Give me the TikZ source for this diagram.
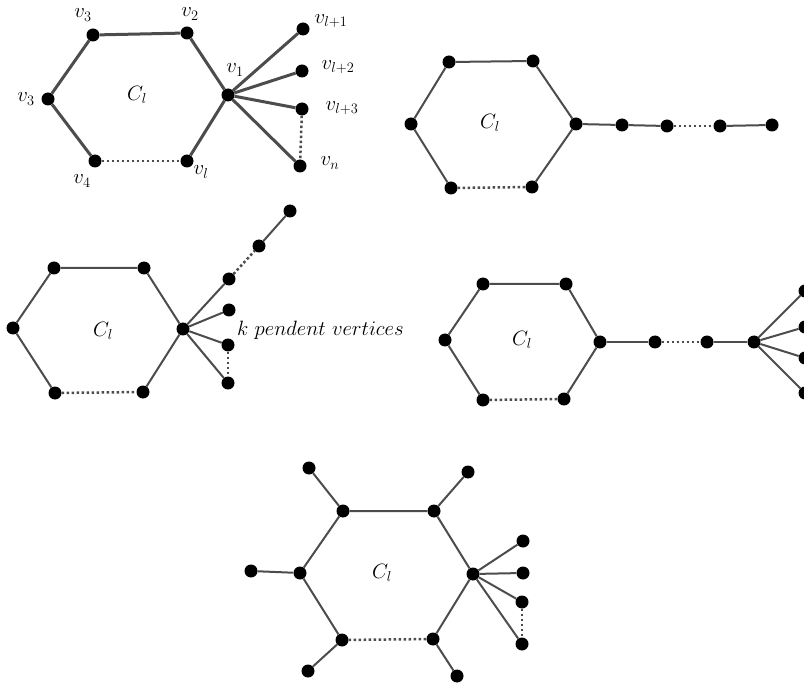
\documentclass[tikz,border=0pt]{standalone}
\begin{document}
\begin{tikzpicture}[x=1pt,y=-1pt,
  vtx/.style={circle,fill=black,inner sep=0pt,minimum size=13pt},
  edg/.style={draw=black!70,line width=2pt},
  thk/.style={draw=black!70,line width=3pt},
  dots/.style={draw=black!70,line width=2.5pt,dash pattern=on 2.5pt off 2.5pt},
  lab/.style={inner sep=0pt,font=\fontsize{20.74}{25}\selectfont}]
\clip (0,0) rectangle (804,687);
\fill[white] (0,0) rectangle (804,687);
% ---------- Figure 1 ----------
\node[vtx] (a3t) at (93,35) {};
\node[vtx] (a2) at (187,33) {};
\node[vtx] (a3l) at (48,99) {};
\node[vtx] (a1) at (228,95) {};
\node[vtx] (a4) at (95,161) {};
\node[vtx] (al) at (187,161) {};
\node[vtx] (p1) at (303,29) {};
\node[vtx] (p2) at (302,71) {};
\node[vtx] (p3) at (302,109) {};
\node[vtx] (pn) at (300,166) {};
\draw[thk] (a3t) -- (a2) -- (a1) -- (al);
\draw[thk] (a3t) -- (a3l) -- (a4);
\draw[dots] (a4) -- (al);
\draw[thk] (a1) -- (p1);
\draw[thk] (a1) -- (p2);
\draw[thk] (a1) -- (p3);
\draw[thk] (a1) -- (pn);
\draw[dots] (p3) -- (pn);
\node[lab] (t3t) at (83,15) {$v_3$};
\node[lab] (t2) at (190,14) {$v_2$};
\node[lab] (t3l) at (26,99) {$v_3$};
\node[lab] (t1) at (235,70) {$v_1$};
\node[lab] (t4) at (82,181) {$v_4$};
\node[lab] (tl) at (201,172) {$v_l$};
\node[lab] (tp1) at (331,21) {$v_{l+1}$};
\node[lab] (tp2) at (338,67) {$v_{l+2}$};
\node[lab] (tp3) at (342,108) {$v_{l+3}$};
\node[lab] (tpn) at (330,163) {$v_n$};
\node[lab] (c1) at (137,95) {$C_l$};
% ---------- Figure 2 ----------
\node[vtx] (b1) at (449,62) {};
\node[vtx] (b2) at (533,61) {};
\node[vtx] (b3) at (411,124) {};
\node[vtx] (b4) at (576,124) {};
\node[vtx] (b5) at (451,188) {};
\node[vtx] (b6) at (532,187) {};
\node[vtx] (bq1) at (622,125) {};
\node[vtx] (bq2) at (667,126) {};
\node[vtx] (bq3) at (720,126) {};
\node[vtx] (bq4) at (772,125) {};
\draw[edg] (b1) -- (b2) -- (b4) -- (b6);
\draw[edg] (b1) -- (b3) -- (b5);
\draw[dots] (b5) -- (b6);
\draw[edg] (b4) -- (bq1) -- (bq2);
\draw[dots] (bq2) -- (bq3);
\draw[edg] (bq3) -- (bq4);
\node[lab] (c2) at (490,123) {$C_l$};
% ---------- Figure 3 ----------
\node[vtx] (d1) at (54,268) {};
\node[vtx] (d2) at (144,268) {};
\node[vtx] (d3) at (13,328) {};
\node[vtx] (d4) at (183,329) {};
\node[vtx] (d5) at (55,393) {};
\node[vtx] (d6) at (143,392) {};
\node[vtx] (dq1) at (229,279) {};
\node[vtx] (dq2) at (259,246) {};
\node[vtx] (dq3) at (290,211) {};
\node[vtx] (dk1) at (229,310) {};
\node[vtx] (dk2) at (228,345) {};
\node[vtx] (dk3) at (228,383) {};
\draw[edg] (d1) -- (d2) -- (d4) -- (d6);
\draw[edg] (d1) -- (d3) -- (d5);
\draw[dots] (d5) -- (d6);
\draw[edg] (d4) -- (dq1);
\draw[dots] (dq1) -- (dq2);
\draw[edg] (dq2) -- (dq3);
\draw[edg] (d4) -- (dk1);
\draw[edg] (d4) -- (dk2);
\draw[edg] (d4) -- (dk3);
\draw[dots] (dk2) -- (dk3);
\node[lab] (c3) at (103,331) {$C_l$};
\node[lab,anchor=west] (kt) at (237,330) {$k\ pendent\ vertices$};
% ---------- Figure 4 ----------
\node[vtx] (e1) at (483,284) {};
\node[vtx] (e2) at (566,284) {};
\node[vtx] (e3) at (445,340) {};
\node[vtx] (e4) at (600,342) {};
\node[vtx] (e5) at (483,400) {};
\node[vtx] (e6) at (564,399) {};
\node[vtx] (eq1) at (655,342) {};
\node[vtx] (eq2) at (707,342) {};
\node[vtx] (es) at (754,342) {};
\node[vtx] (ek1) at (805,291) {};
\node[vtx] (ek2) at (805,327) {};
\node[vtx] (ek3) at (805,358) {};
\node[vtx] (ek4) at (805,393) {};
\draw[edg] (e1) -- (e2) -- (e4) -- (e6);
\draw[edg] (e1) -- (e3) -- (e5);
\draw[dots] (e5) -- (e6);
\draw[edg] (e4) -- (eq1);
\draw[dots] (eq1) -- (eq2);
\draw[edg] (eq2) -- (es);
\draw[edg] (es) -- (ek1);
\draw[edg] (es) -- (ek2);
\draw[edg] (es) -- (ek3);
\draw[edg] (es) -- (ek4);
\draw[dots] (ek3) -- (ek4);
\node[lab] (c4) at (522,340) {$C_l$};
% ---------- Figure 5 ----------
\node[vtx] (f1) at (343,511) {};
\node[vtx] (f2) at (434,511) {};
\node[vtx] (f3) at (300,573) {};
\node[vtx] (f4) at (473,574) {};
\node[vtx] (f5) at (342,640) {};
\node[vtx] (f6) at (433,639) {};
\node[vtx] (g1) at (309,468) {};
\node[vtx] (g2) at (468,472) {};
\node[vtx] (g3) at (251,571) {};
\node[vtx] (g5) at (308,671) {};
\node[vtx] (g6) at (457,676) {};
\node[vtx] (h1) at (523,541) {};
\node[vtx] (h2) at (523,573) {};
\node[vtx] (h3) at (522,602) {};
\node[vtx] (h4) at (522,644) {};
\draw[edg] (f1) -- (f2) -- (f4) -- (f6);
\draw[edg] (f1) -- (f3) -- (f5);
\draw[dots] (f5) -- (f6);
\draw[edg] (f1) -- (g1);
\draw[edg] (f2) -- (g2);
\draw[edg] (f3) -- (g3);
\draw[edg] (f5) -- (g5);
\draw[edg] (f6) -- (g6);
\draw[edg] (f4) -- (h1);
\draw[edg] (f4) -- (h2);
\draw[edg] (f4) -- (h3);
\draw[edg] (f4) -- (h4);
\draw[dots] (h3) -- (h4);
\node[lab] (c5) at (382,573) {$C_l$};
\end{tikzpicture}
\end{document}
